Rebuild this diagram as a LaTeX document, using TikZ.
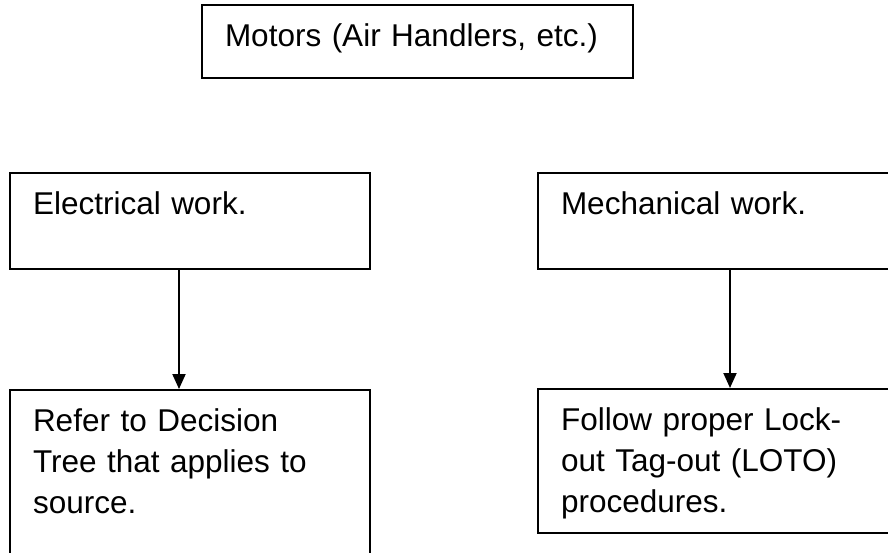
\documentclass[tikz,border=0pt]{standalone}
\usepackage{fontspec}
\setmainfont{Liberation Sans}
\usetikzlibrary{arrows.meta}
\tikzset{taskbox/.style={draw,rectangle,line width=1pt,anchor=north west,align=left,
    inner xsep=11.5pt,inner ysep=0pt,text height=20.5pt,font=\fontsize{15.75}{20.5}\selectfont}}
\newcommand{\taskbox}[6]{\pgfmathsetmacro{\boxtw}{#4-23}\pgfmathsetmacro{\boxtd}{#5-20.5}\node[taskbox,text width=\boxtw pt,text depth=\boxtd pt] (#1) at (#2,#3) {#6};}
\newcommand{\flow}[3]{\draw[line width=1pt,-{Triangle[width=6.5pt,length=7.5pt]}] ([xshift=#3]#1.south) -- ([xshift=#3]#2.north);}

\begin{document}
\begin{tikzpicture}[x=0.5pt,y=-0.5pt]
    \useasboundingbox (0,0) rectangle (888,552);
    \taskbox{motors}{201}{4}{215.5}{36.5}{Motors (Air Handlers, etc.)}
    \taskbox{electrical}{9}{172}{180}{48}{Electrical work.}
    \taskbox{mechanical}{537}{172}{180}{48}{Mechanical work.}
    \taskbox{refer}{9}{389}{180}{87.5}{Refer to Decision\\Tree that applies to\\source.}
    \taskbox{follow}{537}{388}{180}{72}{Follow proper Lock-\\out Tag-out (LOTO)\\procedures.}
    \flow{electrical}{refer}{-5.5pt}
    \flow{mechanical}{follow}{6pt}
\end{tikzpicture}
\end{document}
